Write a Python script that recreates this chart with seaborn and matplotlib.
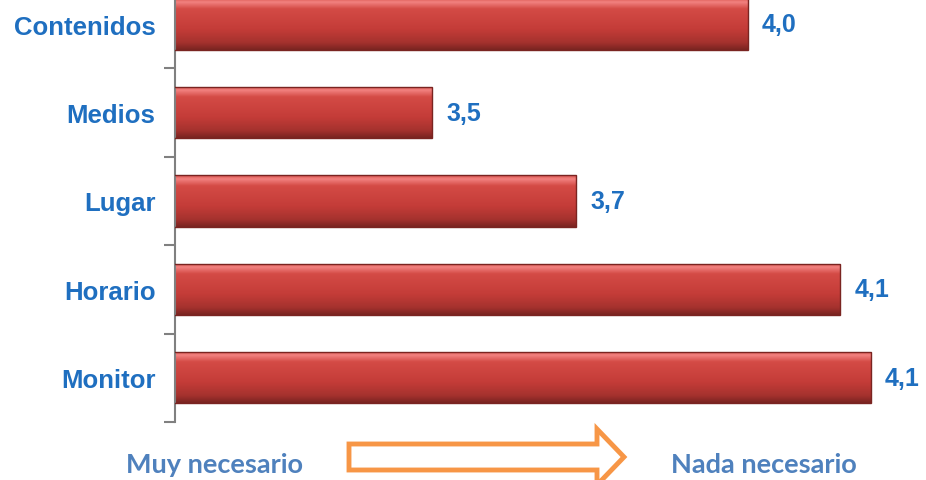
import numpy as np
import matplotlib
matplotlib.use("Agg")
import matplotlib.pyplot as plt
import matplotlib.patches as mpatches
from matplotlib.colors import LinearSegmentedColormap
import seaborn as sns

# Data
categories = ["Contenidos", "Medios", "Lugar", "Horario", "Monitor"]
values = [3.96, 3.50, 3.71, 4.095, 4.14]
value_labels = [f"{v:.1f}".replace(".", ",") for v in values]
left_label = "Muy necesario"
right_label = "Nada necesario"

BLUE = "#1F6FC0"
SOFT_BLUE = "#4F81BD"
ORANGE = "#F79646"
XMIN, XMAX = 3.125, 4.22

sns.set_style("white")
plt.rcParams["font.family"] = ["Liberation Sans", "DejaVu Sans"]

fig = plt.figure(figsize=(9.26, 4.81), dpi=100)
ax = fig.add_axes([175 / 926, 58 / 481, 751 / 926, 442 / 481])

sns.barplot(x=values, y=categories, color="#C43C38", width=0.58,
            orient="h", ax=ax)

# gradient fill inside every bar for the glossy look
grad = LinearSegmentedColormap.from_list(
    "bar", [(0.0, "#D85550"), (0.07, "#F28280"), (0.2, "#D44B46"),
            (0.6, "#C43C38"), (0.86, "#A5322E"), (1.0, "#7A2421")])
g = np.linspace(0, 1, 64).reshape(-1, 1)
for p in ax.patches:
    bb = p.get_bbox()
    im = ax.imshow(g, cmap=grad, aspect="auto", origin="upper",
                   extent=(max(bb.x0, XMIN), bb.x1, bb.y1, bb.y0), zorder=2)
    im.set_clip_path(p)
    p.set_facecolor("none")
    p.set_edgecolor("#7A2421")
    p.set_linewidth(1.0)
    p.set_zorder(3)

ax.bar_label(ax.containers[0], labels=value_labels, padding=10,
             color=BLUE, fontsize=18, fontweight="bold")

ax.set_xlim(XMIN, XMAX)
ax.set_ylim(4.5, -0.5)
ax.set_xticks([])
ax.set_xlabel("")
ax.set_ylabel("")

for s in ["top", "right", "bottom"]:
    ax.spines[s].set_visible(False)
ax.spines["left"].set_color("#808080")
ax.spines["left"].set_linewidth(1.5)

ax.set_yticks(range(len(categories)))
ax.set_yticklabels(categories, color=BLUE, fontsize=18.5, fontweight="bold")
ax.set_yticks(np.arange(-0.5, len(categories), 1.0), minor=True)
ax.tick_params(axis="y", which="major", left=True, length=0, pad=14)
ax.tick_params(axis="y", which="minor", left=True, length=8, width=1.5,
               color="#808080", direction="out")

# bottom scale legend with arrow
fig.text(214 / 926, 16 / 481, left_label, ha="center", va="center",
         fontsize=19.5, fontweight="bold", color=SOFT_BLUE, family=["Lato", "DejaVu Sans"])
fig.text(764 / 926, 16 / 481, right_label, ha="center", va="center",
         fontsize=19.5, fontweight="bold", color=SOFT_BLUE, family=["Lato", "DejaVu Sans"])
arrow = mpatches.FancyArrow(349 / 926, 23 / 481, 248 / 926, 0,
                            width=26 / 481, head_width=56 / 481,
                            head_length=27 / 926, length_includes_head=False,
                            transform=fig.transFigure, facecolor="white",
                            edgecolor=ORANGE, linewidth=3.5)
fig.add_artist(arrow)

fig.savefig("out.png", dpi=100)
